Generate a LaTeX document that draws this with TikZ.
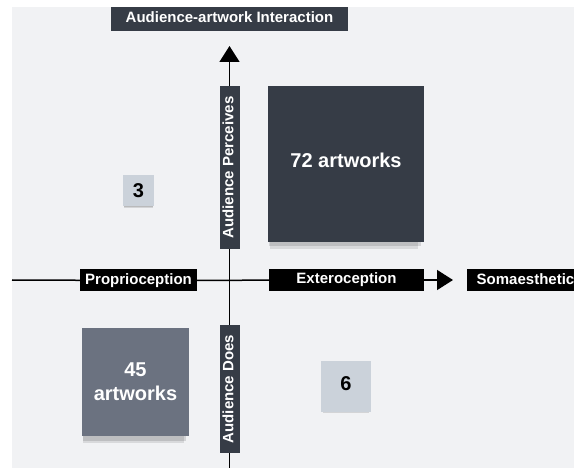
\documentclass[tikz,border=0pt]{standalone}
\usepackage{fontspec}
\setmainfont{Liberation Sans}
\usetikzlibrary{arrows.meta}
\usetikzlibrary{shadows}
\usetikzlibrary{backgrounds}
\definecolor{slate}{HTML}{363C46}
\definecolor{midgray}{HTML}{6B7280}
\definecolor{paleblue}{HTML}{CBD2DA}
\definecolor{bgpaper}{HTML}{F1F2F4}
\tikzset{%
  axisline/.style={line width=1.5pt, black},
  axisarrow/.style={axisline, -{Triangle[length=16pt, width=20pt]}},
  axislabel/.style={fill=black, text=white, font=\fontsize{15}{18}\selectfont\bfseries,
    inner sep=0pt, minimum height=22pt, text height=10.5pt, text depth=3pt},
  darklabel/.style={axislabel, fill=slate, minimum height=20pt},
  card/.style={inner sep=0pt, font=\fontsize{20}{24}\selectfont\bfseries, align=center},
  bigshadow/.style={
    drop shadow={shadow xshift=-2pt, shadow yshift=-11pt, shadow scale=0.95, fill=black, opacity=0.1},
    drop shadow={shadow xshift=-1pt, shadow yshift=-7pt, shadow scale=0.97, fill=black, opacity=0.12}},
  smallshadow/.style={
    drop shadow={shadow xshift=0pt, shadow yshift=-4pt, shadow scale=0.92, fill=black, opacity=0.12},
    drop shadow={shadow xshift=0pt, shadow yshift=-2pt, shadow scale=0.95, fill=black, opacity=0.12}}
}

\begin{document}
\begin{tikzpicture}[x=1pt, y=-1pt]
  \useasboundingbox (0,0) rectangle (574,468);
  \node[darklabel, minimum width=237pt, minimum height=24pt] (title) at (229.5,19) {Audience-artwork Interaction};
  \node[darklabel, rotate=90, minimum width=163pt] (perc) at (229.5,167.5) {Audience Perceives};
  \node[darklabel, rotate=90, minimum width=128pt] (does) at (229.5,389) {Audience Does};
  \node[card, fill=slate, text=white, minimum size=156pt, text depth=7pt, bigshadow] (many) at (346,164) {72 artworks};
  \node[card, fill=paleblue, minimum size=31pt, smallshadow] (few) at (138.5,190.5) {3};
  \node[card, fill=midgray, text=white, minimum size=107pt, bigshadow] (some) at (135.5,382) {45\\artworks};
  \node[card, fill=paleblue, minimum size=50pt, text depth=5pt, smallshadow] (rare) at (346,386.5) {6};
  \node[axislabel, minimum width=117pt] (prop) at (138.5,280.5) {Proprioception};
  \node[axislabel, minimum width=155pt] (ext) at (346.5,280) {Exteroception};
  \node[axislabel, minimum width=117pt] (soma) at (525.5,280.5) {Somaesthetic};
  \coordinate (ytip) at (229.5,46);
  \coordinate (ybot) at (229.5,468);
  \coordinate (xleft) at (12,280);
  \coordinate (xtip) at (453,280);
  % axes behind the labels
  \begin{scope}[on background layer]
    \fill[white] (0,0) rectangle (574,468);
    \fill[bgpaper] (12,7) rectangle (574,468);
    \draw[axisline] (ybot) -- (does) -- (perc);
    \draw[axisarrow] (perc) -- (ytip);
    \draw[axisline] (xleft) -- (prop) -- (ext);
    \draw[axisarrow] (ext) -- (xtip);
  \end{scope}
\end{tikzpicture}
\end{document}
